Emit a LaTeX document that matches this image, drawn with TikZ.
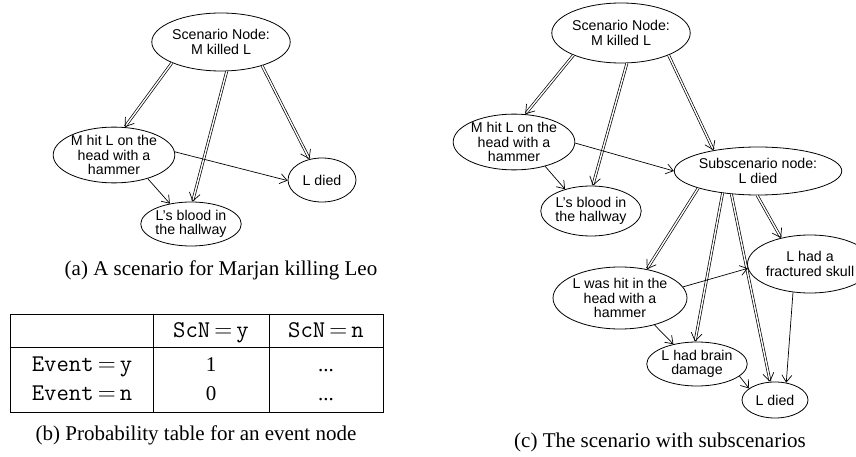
\documentclass[tikz,border=0pt]{standalone}
\usepackage{fontspec}
\setmainfont{Liberation Serif}
\newfontfamily\nodefont{Liberation Sans}
\usetikzlibrary{shapes.geometric,arrows.meta,decorations.markings}

\tikzset{
  ev/.style={ellipse, draw, line width=0.8pt, inner sep=0pt, align=center,
    font=\nodefont\fontsize{14.2}{14.5}\selectfont},
  dbl/.style={double, double distance=1.4pt, line width=0.7pt, shorten >=1pt,
    postaction={decorate, decoration={markings,
      mark=at position 1 with {\arrow[line width=0.7pt, double=none]{Straight Barb[length=8pt,width=11pt]}}}}},
  sgl/.style={line width=0.7pt, -{Straight Barb[length=7pt,width=10pt]}},
  capt/.style={inner sep=0pt, font=\fontsize{21}{24}\selectfont},
  ttcell/.style={inner sep=0pt, anchor=base, font=\fontsize{24}{26}\selectfont\ttfamily},
  numcell/.style={inner sep=0pt, anchor=base, font=\fontsize{21}{24}\selectfont},
}

\begin{document}
\begin{tikzpicture}[x=1pt, y=-1pt]
  \useasboundingbox (0,0) rectangle (856,457);

  % (a) the scenario
  \node[ev, minimum width=136pt, minimum height=58pt] (sn_a) at (221,42) {Scenario Node:\\M killed L};
  \node[ev, minimum width=114pt, minimum height=50pt] (hit_a) at (114,155) {M hit L on the\\head with a\\hammer};
  \node[ev, minimum width=96pt, minimum height=44pt] (blood_a) at (191,224) {L’s blood in\\the hallway};
  \node[ev, minimum width=68pt, minimum height=44pt] (died_a) at (322,180) {L died};
  \path
    (sn_a.203) edge[dbl] (hit_a.69)
    (sn_a.281) edge[dbl] (blood_a.86)
    (sn_a.330) edge[dbl] (died_a.121)
    (hit_a.3) edge[sgl] (died_a.181)
    (hit_a.325) edge[sgl] (blood_a.136)
    ;
  \node[capt] (cap_a) at (221,270) {(a) A scenario for Marjan killing Leo};

  % (b) the table
  \draw[line width=0.7pt] (10,314) rectangle (383,412);
  \draw[line width=0.7pt] (153,314) -- (153,412) (269,314) -- (269,412) (10,347) -- (383,347);
  \node[ttcell] (h_y) at (211,337) {ScN$\,=\,$y};
  \node[ttcell] (h_n) at (326,337) {ScN$\,=\,$n};
  \node[ttcell] (r_y) at (82,371) {Event$\,=\,$y};
  \node[ttcell] (r_n) at (82,400) {Event$\,=\,$n};
  \node[numcell] (p_yy) at (211,371) {1};
  \node[numcell] (p_ny) at (211,400) {0};
  \node[numcell] (p_yn) at (326,371) {...};
  \node[numcell] (p_nn) at (326,400) {...};
  \node[capt] (cap_b) at (196,435) {(b) Probability table for an event node};

  % (c) with subscenarios
  \node[ev, minimum width=137pt, minimum height=60pt] (sn_c) at (621,33) {Scenario Node:\\M killed L};
  \node[ev, minimum width=114pt, minimum height=54pt] (hit_c) at (514,142) {M hit L on the\\head with a\\hammer};
  \node[ev, minimum width=96pt, minimum height=50pt] (blood_c) at (591,211) {L’s blood in\\the hallway};
  \node[ev, minimum width=137pt, minimum height=48pt] (sub_c) at (758,171) {Subscenario node:\\L died};
  \node[ev, minimum width=126pt, minimum height=62pt] (hit2_c) at (620,298) {L was hit in the\\head with a\\hammer};
  \node[ev, minimum width=98pt, minimum height=44pt] (brain_c) at (697,364) {L had brain\\damage};
  \node[ev, minimum width=94pt, minimum height=58pt] (skull_c) at (810,264) {L had a\\fractured skull};
  \node[ev, minimum width=66pt, minimum height=36pt] (died_c) at (775,400) {L died};
  \path
    (sn_c.205) edge[dbl] (hit_c.68)
    (sn_c.281) edge[dbl] (blood_c.86)
    (sn_c.335) edge[dbl] (sub_c.155)
    (hit_c.359) edge[sgl] (sub_c.180)
    (hit_c.322) edge[sgl] (blood_c.140)
    (sub_c.196) edge[dbl] (hit2_c.47)
    (sub_c.212) edge[dbl] (brain_c.95)
    (sub_c.221) edge[dbl] (died_c.105)
    (sub_c.268) edge[dbl] (skull_c.138)
    (hit2_c.10) edge[sgl] (skull_c.184)
    (hit2_c.322) edge[sgl] (brain_c.140)
    (brain_c.344) edge[sgl] (died_c.156)
    (skull_c.239) edge[sgl] (died_c.57)
    ;
  \node[capt] (cap_c) at (660,442) {(c) The scenario with subscenarios};
\end{tikzpicture}
\end{document}
